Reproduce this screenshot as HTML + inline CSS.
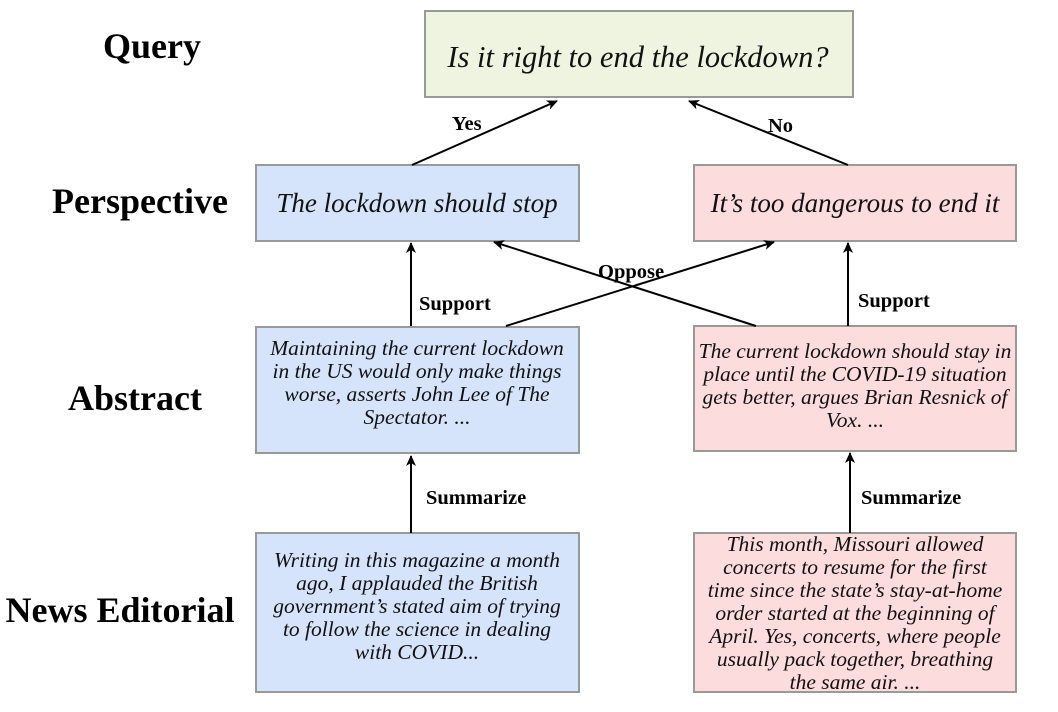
<!DOCTYPE html>
<html><head><style>
html,body{margin:0;padding:0;background:#fff;}
svg{display:block;}
.lab{font-family:"Liberation Serif",serif;font-weight:bold;font-size:36px;fill:#000;text-anchor:middle;}
.el{font-family:"Liberation Serif",serif;font-weight:bold;font-size:20.5px;fill:#000;}
.it{font-family:"Liberation Serif",serif;font-style:italic;fill:#111;text-anchor:middle;}
</style></head><body>
<svg width="1058" height="712" viewBox="0 0 1058 712" xmlns="http://www.w3.org/2000/svg">
<defs><marker id="a" markerWidth="12" markerHeight="12" refX="10" refY="5" orient="auto" markerUnits="userSpaceOnUse"><path d="M0,0 L11,5 L0,10 L3,5 z" fill="#000"/></marker></defs>
<g stroke="#999" stroke-width="2">
<rect x="425" y="11" width="428" height="86" fill="#eef4df"/>
<rect x="256" y="165" width="323" height="76" fill="#d6e4fb"/>
<rect x="694" y="165" width="322" height="76" fill="#fcdcdc"/>
<rect x="256" y="327" width="323" height="126" fill="#d6e4fb"/>
<rect x="694" y="326" width="322" height="125" fill="#fcdcdc"/>
<rect x="256" y="533" width="323" height="159" fill="#d6e4fb"/>
<rect x="694" y="533" width="322" height="159" fill="#fcdcdc"/>
</g>
<g stroke="#000" stroke-width="2" fill="none" marker-end="url(#a)">
<line x1="412" y1="165" x2="557" y2="101"/>
<line x1="848" y1="165" x2="689" y2="101"/>
<line x1="411" y1="326" x2="411" y2="243"/>
<line x1="848" y1="326" x2="848" y2="243"/>
<line x1="506" y1="326" x2="774" y2="242"/>
<line x1="756" y1="326" x2="494" y2="242"/>
<line x1="411" y1="533" x2="411" y2="456"/>
<line x1="850" y1="533" x2="850" y2="453"/>
</g>
<text class="lab" x="152" y="58">Query</text>
<text class="lab" x="140" y="213">Perspective</text>
<text class="lab" x="135" y="410">Abstract</text>
<text class="lab" x="120" y="622">News Editorial</text>
<text class="el" x="452" y="130">Yes</text>
<text class="el" x="768" y="132">No</text>
<text class="el" x="419" y="310">Support</text>
<text class="el" x="858" y="307">Support</text>
<text class="el" x="598" y="278">Oppose</text>
<text class="el" x="426" y="504">Summarize</text>
<text class="el" x="861" y="504">Summarize</text>
<text class="it" x="638" y="67" style="font-size:30.5px">Is it right to end the lockdown?</text>
<text class="it" x="417" y="212" style="font-size:27px">The lockdown should stop</text>
<text class="it" x="855" y="212" style="font-size:27px">It’s too dangerous to end it</text>
<g style="font-size:21.5px">
<text class="it" x="417" y="355">Maintaining the current lockdown</text>
<text class="it" x="417" y="378">in the US would only make things</text>
<text class="it" x="417" y="401">worse, asserts John Lee of The</text>
<text class="it" x="417" y="424">Spectator.   ...</text>
<text class="it" x="417" y="567">Writing in this magazine a month</text>
<text class="it" x="417" y="590">ago, I applauded the British</text>
<text class="it" x="417" y="613">government’s stated aim of trying</text>
<text class="it" x="417" y="636">to follow the science in dealing</text>
<text class="it" x="417" y="659">with COVID...</text>
<text class="it" x="855" y="358">The current lockdown should stay in</text>
<text class="it" x="855" y="381">place until the COVID-19 situation</text>
<text class="it" x="855" y="404">gets better, argues Brian Resnick of</text>
<text class="it" x="855" y="427">Vox.  ...</text>
<text class="it" x="855" y="551">This month, Missouri allowed</text>
<text class="it" x="855" y="574">concerts to resume for the first</text>
<text class="it" x="855" y="597">time since the state’s stay-at-home</text>
<text class="it" x="855" y="620">order started at the beginning of</text>
<text class="it" x="855" y="643">April. Yes, concerts, where people</text>
<text class="it" x="855" y="666">usually pack together, breathing</text>
<text class="it" x="855" y="689">the same air. ...</text>
</g>
</svg>
</body></html>
